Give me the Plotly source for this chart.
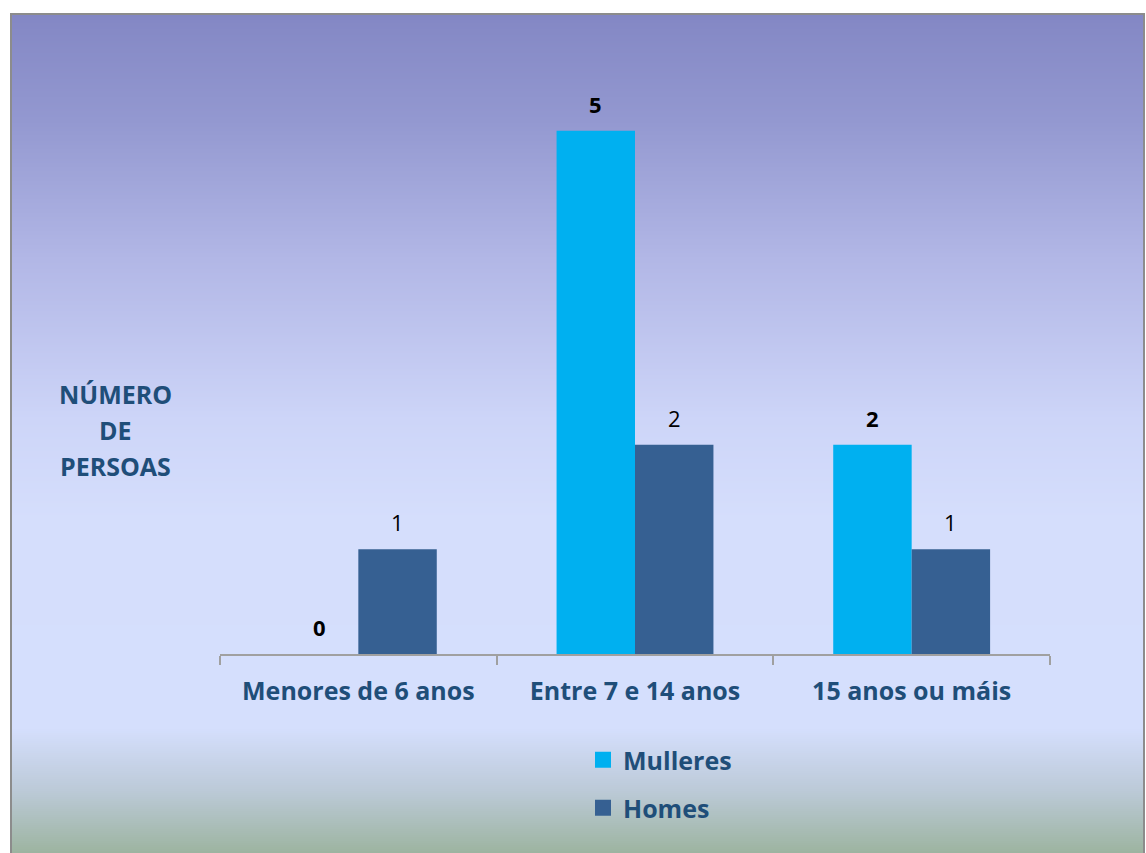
import plotly.graph_objects as go

# --- data ---
categories = ["Menores de 6 anos", "Entre 7 e 14 anos", "15 anos ou máis"]
mulleres = [0, 5, 2]
homes = [1, 2, 1]
axis_title_lines = ["NÚMERO", "DE", "PERSOAS"]

# --- canvas geometry (pixels) ---
W, H = 1146, 853
L, R, T, B = 220, 96, 26, 199
PW, PH = W - L - R, H - T - B
BARGAP = 0.433


def px_x(px):
    return (px - L) / PW


def px_y(py):
    return (H - B - py) / PH


def hex_rgb(h):
    h = h.lstrip("#")
    return tuple(int(h[i:i + 2], 16) for i in (0, 2, 4))


# vertical gradient stops for the chart area background (pixel y, colour)
grad_stops = [
    (13, "#8387c4"),
    (120, "#9398d0"),
    (260, "#b2b7e6"),
    (420, "#cdd5f8"),
    (520, "#d5defc"),
    (728, "#d5dffd"),
    (790, "#bccad8"),
    (853, "#9db4a0"),
]


def grad_color(py):
    for (y0, c0), (y1, c1) in zip(grad_stops, grad_stops[1:]):
        if y0 <= py <= y1:
            t = (py - y0) / (y1 - y0)
            a, b = hex_rgb(c0), hex_rgb(c1)
            return "rgb(%d,%d,%d)" % tuple(round(a[i] + (b[i] - a[i]) * t) for i in range(3))
    return grad_stops[-1][1]


shapes = []
step = 2
for py in range(13, 855, step):
    shapes.append(dict(
        type="rect", xref="paper", yref="paper", layer="below",
        x0=px_x(10), x1=px_x(1145), y0=px_y(py + step), y1=px_y(py),
        fillcolor=grad_color(py + step / 2), line=dict(width=0),
    ))
# chart area border
shapes.append(dict(
    type="rect", xref="paper", yref="paper", layer="above",
    x0=px_x(11), x1=px_x(1144), y0=px_y(870), y1=px_y(14),
    fillcolor="rgba(0,0,0,0)", line=dict(color="#8c8c8c", width=2),
))

FONT = "Open Sans"
BLUE_TXT = "#1f4e79"
C_MULLERES = "#00b0f0"
C_HOMES = "#366092"

fig = go.Figure()
fig.add_trace(go.Bar(
    name="Mulleres", x=categories, y=mulleres,
    marker=dict(color=C_MULLERES, line=dict(width=0)), showlegend=False,
))
fig.add_trace(go.Bar(
    name="Homes", x=categories, y=homes,
    marker=dict(color=C_HOMES, line=dict(width=0)), showlegend=False,
))
# legend entries with square keys
fig.add_trace(go.Scatter(
    name="Mulleres", x=[None], y=[None], mode="markers",
    marker=dict(symbol="square", size=16, color=C_MULLERES), legend="legend",
))
fig.add_trace(go.Scatter(
    name="Homes", x=[None], y=[None], mode="markers",
    marker=dict(symbol="square", size=16, color=C_HOMES), legend="legend2",
))

annotations = []
# value labels above each bar
half_bar_px = PW / len(categories) * (1 - BARGAP) / 4
for vals, bold, sign in ((mulleres, True, -1), (homes, False, 1)):
    for cat, v in zip(categories, vals):
        annotations.append(dict(
            text=("<b>%d</b>" if bold else "%d") % v, x=cat, y=v, xref="x", yref="y",
            xshift=sign * half_bar_px, yshift=27, xanchor="center", yanchor="middle",
            showarrow=False, font=dict(family=FONT, size=22, color="#000000"),
        ))

for i, line in enumerate(axis_title_lines):
    annotations.append(dict(
        text="<b>%s</b>" % line, xref="paper", yref="paper",
        x=px_x(115), y=px_y(394 + 36 * i), xanchor="center", yanchor="middle",
        showarrow=False, font=dict(family=FONT, size=25, color=BLUE_TXT),
    ))

legend_style = dict(
    orientation="v", xanchor="left", yanchor="middle",
    bgcolor="rgba(0,0,0,0)", borderwidth=0,
    font=dict(family=FONT, size=25, color=BLUE_TXT, weight="bold"),
)

fig.update_layout(
    width=W, height=H,
    margin=dict(l=L, r=R, t=T, b=B, pad=0),
    paper_bgcolor="white", plot_bgcolor="rgba(0,0,0,0)",
    barmode="group", bargap=BARGAP, bargroupgap=0,
    showlegend=True,
    legend=dict(x=px_x(583), y=px_y(760), **legend_style),
    legend2=dict(x=px_x(583), y=px_y(808), **legend_style),
    xaxis=dict(
        type="category", tickson="boundaries",
        showline=True, linecolor="#a0a0a0", linewidth=2,
        ticks="outside", ticklen=9, tickcolor="#a0a0a0", tickwidth=2,
        showgrid=False, zeroline=False,
        tickfont=dict(family=FONT, size=25, color=BLUE_TXT, weight="bold"),
        ticklabelstandoff=14,
    ),
    yaxis=dict(
        range=[0, 6], visible=False, showgrid=False, zeroline=False,
    ),
    shapes=shapes,
    annotations=annotations,
)

fig.write_html("out.html")
